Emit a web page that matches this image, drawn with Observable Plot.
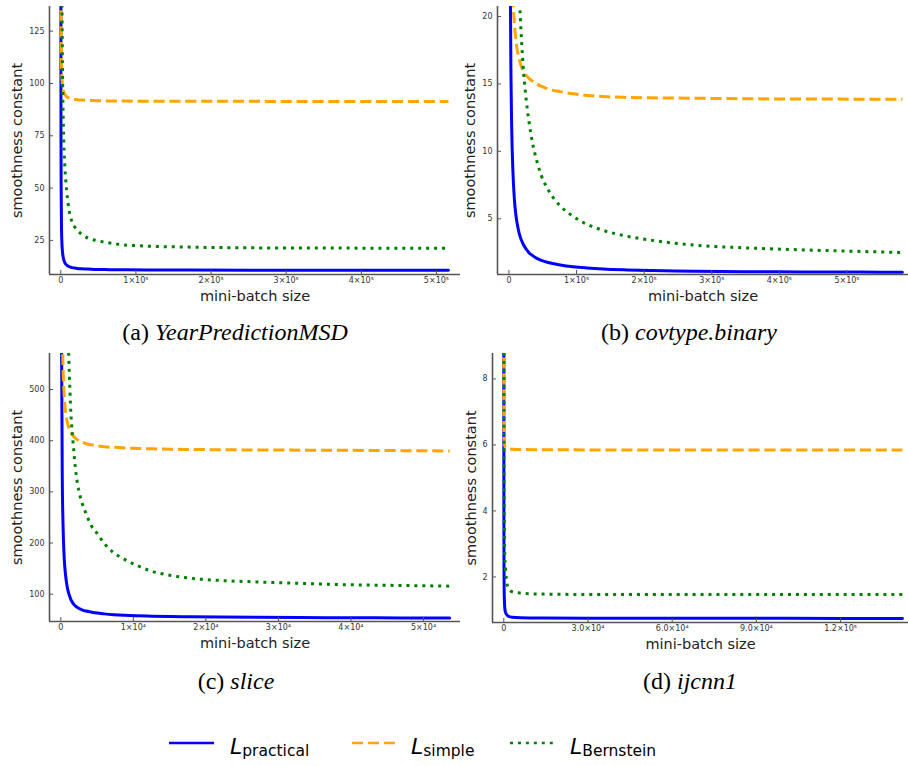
<!DOCTYPE html>
<html><head><meta charset="utf-8">
<script src="https://cdn.jsdelivr.net/npm/d3@7"></script>
<script src="https://cdn.jsdelivr.net/npm/@observablehq/plot@0.6"></script>
<style>
body{margin:0;background:#fff;}
#fig{position:relative;width:908px;height:766px;overflow:hidden;background:#fff;font-family:"DejaVu Sans",sans-serif;}
.panel{position:absolute;}
.cap{position:absolute;width:400px;text-align:center;font-family:"Liberation Serif","Times New Roman",serif;font-size:24px;line-height:26px;color:#000;white-space:nowrap;}
.cap i{font-style:italic;}
#legend{position:absolute;left:0;top:720px;}
</style></head><body><div id="fig">
<div class="cap" style="left:35px;top:319px">(a) <i>YearPredictionMSD</i></div>
<div class="cap" style="left:489px;top:319px">(b) <i>covtype.binary</i></div>
<div class="cap" style="left:36px;top:668px">(c) <i>slice</i></div>
<div class="cap" style="left:490px;top:668px">(d) <i>ijcnn1</i></div>
</div>
<script>
// ---------- data ----------
const seriesNames = ["practical", "simple", "Bernstein"];
const seriesColors = ["#0000ff", "#ffa500", "#008000"];

// (a) YearPredictionMSD
const aX = [150, 300, 500, 1000, 1500, 2000, 3000, 4000, 5500, 8000, 11500, 15000, 20000, 27000, 36000, 47000, 58000, 80000, 113000, 170000, 275000, 400000, 516000];
const aPractical = [144, 77, 50.7, 30.7, 24, 20.7, 17.4, 15.7, 14.3, 13.2, 12.4, 12.0, 11.7, 11.4, 11.3, 11.1, 11.05, 10.95, 10.9, 10.8, 10.77, 10.75, 10.7];
const aSimple = [211, 151, 127, 109.4, 103.4, 100.4, 97.4, 95.9, 94.7, 93.6, 93.0, 92.6, 92.3, 92.1, 91.9, 91.8, 91.7, 91.6, 91.55, 91.5, 91.45, 91.4, 91.4];
const aBernstein = [1350, 690, 420, 230, 150, 120, 88, 72, 60, 48, 38.6, 33.8, 30.7, 28.2, 26.1, 25.0, 24.2, 23.0, 22.3, 21.8, 21.4, 21.3, 21.2];
const aXTicks = [0, 100000, 200000, 300000, 400000, 500000];
const aXTickLabels = ["0", "1×10⁵", "2×10⁵", "3×10⁵", "4×10⁵", "5×10⁵"];
const aYTicks = [25, 50, 75, 100, 125];

// (b) covtype.binary
const bX = [1500, 2000, 3000, 4000, 6000, 8000, 10000, 12000, 15000, 17000, 19000, 21000, 24000, 27000, 30000, 35000, 42000, 48000, 58000, 76000, 95000, 115000, 139000, 175000, 212000, 273000, 347000, 433000, 520000, 582000];
const bPractical = [30.4, 23, 15.7, 12, 8.4, 6.5, 5.4, 4.7, 3.96, 3.62, 3.35, 3.13, 2.86, 2.66, 2.47, 2.27, 2.05, 1.92, 1.76, 1.58, 1.45, 1.36, 1.28, 1.21, 1.16, 1.12, 1.08, 1.06, 1.05, 1.04];
const bSimple = [43.9, 36.4, 28.9, 25.1, 21.4, 19.5, 18.4, 17.6, 16.9, 16.5, 16.2, 16.0, 15.7, 15.55, 15.4, 15.2, 14.97, 14.83, 14.62, 14.43, 14.27, 14.15, 14.06, 14.0, 13.97, 13.94, 13.9, 13.88, 13.87, 13.86];
const bBernstein = [202, 152, 102, 77, 52, 39.5, 32, 27, 22, 19.8, 17.9, 16.3, 14.6, 13.2, 12.1, 10.6, 9.15, 8.2, 7.15, 5.95, 5.18, 4.6, 4.15, 3.7, 3.4, 3.05, 2.85, 2.7, 2.58, 2.5];
const bXTicks = [0, 100000, 200000, 300000, 400000, 500000];
const bXTickLabels = ["0", "1×10⁵", "2×10⁵", "3×10⁵", "4×10⁵", "5×10⁵"];
const bYTicks = [5, 10, 15, 20];

// (c) slice
const cX = [100, 200, 300, 450, 650, 900, 1100, 1250, 1400, 1600, 1800, 2000, 2300, 2600, 3000, 3500, 4200, 5000, 6000, 7300, 8800, 10500, 12500, 15000, 18000, 22000, 27000, 33000, 40000, 47000, 53600];
const cPractical = [600, 330, 240, 175, 138, 113, 101, 95, 89, 84, 80, 77, 74, 71.5, 69, 67, 65, 63, 61.5, 60, 58.8, 57.8, 57, 56.3, 55.7, 55.2, 54.7, 54.3, 53.9, 53.5, 53.2];
const cSimple = [880, 630, 547, 491, 457, 436, 425, 420, 416, 411, 408, 405, 402, 399, 397, 394, 392, 390, 388, 387, 385.7, 384.8, 384, 383.3, 382.8, 382.3, 381.8, 381.5, 381.2, 380.5, 380];
const cBernstein = [5000, 2600, 1770, 1220, 880, 660, 562, 500, 450, 412, 378, 348, 316, 295, 275, 257, 234, 219, 199, 181, 168, 156, 145, 137, 131, 126.8, 124, 121, 118.3, 117, 115.7];
const cXTicks = [0, 10000, 20000, 30000, 40000, 50000];
const cXTickLabels = ["0", "1×10⁴", "2×10⁴", "3×10⁴", "4×10⁴", "5×10⁴"];
const cYTicks = [100, 200, 300, 400, 500];

// (d) ijcnn1
const dX = [10, 20, 40, 55, 80, 120, 200, 370, 600, 850, 1200, 1500, 3000, 6000, 14000, 30000, 60000, 100000, 142000];
const dPractical = [12, 6.5, 3.6, 2.8, 2.2, 1.7, 1.32, 1.05, 0.93, 0.88, 0.84, 0.82, 0.78, 0.765, 0.755, 0.75, 0.748, 0.746, 0.744];
const dSimple = [10.1, 8.0, 6.9, 6.63, 6.4, 6.21, 6.07, 5.97, 5.92, 5.9, 5.89, 5.88, 5.87, 5.86, 5.855, 5.85, 5.85, 5.85, 5.85];
const dBernstein = [36, 19, 10.2, 8.7, 6.5, 4.8, 3.5, 2.55, 2.24, 1.99, 1.76, 1.68, 1.55, 1.51, 1.48, 1.47, 1.47, 1.47, 1.47];
const dXTicks = [0, 30000, 60000, 90000, 120000];
const dXTickLabels = ["0", "3.0×10⁴", "6.0×10⁴", "9.0×10⁴", "1.2×10⁵"];
const dYTicks = [2, 4, 6, 8];

const xLabel = "mini-batch size";
const yLabel = "smoothness constant";

// ---------- drawing ----------
const fig = document.getElementById("fig");
const spine = "#555";

function drawPanel(cfg) {
  const {left, top, width, height, mL, mR, mT, mB, xDomain, yDomain, xs, series, xTicks, xTickLabels, yTicks, yLabelDx} = cfg;
  const fw = width - mL - mR, fh = height - mT - mB;
  const xFmt = new Map(xTicks.map((t, i) => [t, xTickLabels[i]]));
  const rows = (ys) => xs.map((x, i) => ({x, y: ys[i]}));
  const styles = [
    {strokeWidth: 3, strokeLinecap: "round"},
    {strokeWidth: 3, strokeDasharray: "11.1,4.8", strokeLinecap: "butt"},
    {strokeWidth: 3, strokeDasharray: "3,4.95", strokeLinecap: "butt"}
  ];
  const lines = series.map((ys, k) => Plot.line(rows(ys), {x: "x", y: "y", stroke: seriesColors[k], curve: "monotone-x", clip: true, ...styles[k]}));
  const chart = Plot.plot({
    width, height,
    marginLeft: mL, marginRight: mR, marginTop: mT, marginBottom: mB,
    style: {background: "transparent", overflow: "visible", fontFamily: "DejaVu Sans", fontSize: "8px", color: "#333"},
    x: {domain: xDomain, ticks: xTicks, tickFormat: d => xFmt.get(d), tickSize: 0, tickPadding: 3, label: null},
    y: {domain: yDomain, ticks: yTicks, tickFormat: d => String(d), tickSize: 0, tickPadding: 5, label: null},
    marks: [
      ...lines,
      Plot.tickX(xTicks, {x: d => d, insetTop: fh - 4, stroke: spine, strokeWidth: 1}),
      Plot.tickY(yTicks, {y: d => d, insetRight: fw - 4, stroke: spine, strokeWidth: 1}),
      Plot.ruleX([xDomain[0]], {stroke: spine, strokeWidth: 1.6}),
      Plot.ruleY([yDomain[0]], {stroke: spine, strokeWidth: 1.6}),
      Plot.text([xLabel], {text: d => d, frameAnchor: "bottom", textAnchor: "middle", lineAnchor: "middle", dy: 22, fontSize: 14.5, fill: "#222"}),
      Plot.text([yLabel], {text: d => d, frameAnchor: "left", textAnchor: "middle", lineAnchor: "middle", dx: yLabelDx, rotate: -90, fontSize: 14.5, fill: "#222"})
    ]
  });
  chart.classList.add("panel");
  chart.style.left = left + "px";
  chart.style.top = top + "px";
  chart.style.position = "absolute";
  fig.appendChild(chart);
}

drawPanel({left: 0, top: 0, width: 460, height: 310, mL: 49, mR: 0, mT: 6, mB: 36,
  xDomain: [-15000, 532000], yDomain: [8.7, 136.8], xs: aX, series: [aPractical, aSimple, aBernstein],
  xTicks: aXTicks, xTickLabels: aXTickLabels, yTicks: aYTicks, yLabelDx: -32});
drawPanel({left: 450, top: 0, width: 458, height: 310, mL: 47, mR: 0, mT: 6, mB: 36,
  xDomain: [-16900, 591000], yDomain: [0.87, 20.74], xs: bX, series: [bPractical, bSimple, bBernstein],
  xTicks: bXTicks, xTickLabels: bXTickLabels, yTicks: bYTicks, yLabelDx: -27});
drawPanel({left: 0, top: 345, width: 460, height: 310, mL: 49, mR: 0, mT: 8, mB: 34,
  xDomain: [-1560, 55100], yDomain: [46.6, 570.4], xs: cX, series: [cPractical, cSimple, cBernstein],
  xTicks: cXTicks, xTickLabels: cXTickLabels, yTicks: cYTicks, yLabelDx: -32});
drawPanel({left: 450, top: 345, width: 458, height: 310, mL: 42, mR: 0, mT: 8, mB: 33,
  xDomain: [-4026, 144190], yDomain: [0.62, 8.77], xs: dX, series: [dPractical, dSimple, dBernstein],
  xTicks: dXTicks, xTickLabels: dXTickLabels, yTicks: dYTicks, yLabelDx: -21});

// ---------- legend ----------
const NS = "http://www.w3.org/2000/svg";
const leg = document.createElementNS(NS, "svg");
leg.setAttribute("id", "legend");
leg.setAttribute("width", 908);
leg.setAttribute("height", 46);
const legItems = [
  {x1: 169, x2: 214, tx: 230, dash: null},
  {x1: 352, x2: 396, tx: 411, dash: "11.1,4.8"},
  {x1: 510, x2: 553, tx: 570, dash: "3,4.95"}
];
legItems.forEach((it, k) => {
  const ln = document.createElementNS(NS, "line");
  ln.setAttribute("x1", it.x1); ln.setAttribute("x2", it.x2);
  ln.setAttribute("y1", 23); ln.setAttribute("y2", 23);
  ln.setAttribute("stroke", seriesColors[k]);
  ln.setAttribute("stroke-width", 2.7);
  if (it.dash) { ln.setAttribute("stroke-dasharray", it.dash); ln.setAttribute("stroke-linecap", "butt"); }
  leg.appendChild(ln);
  const t = document.createElementNS(NS, "text");
  t.setAttribute("x", it.tx); t.setAttribute("y", 34);
  t.setAttribute("font-family", "DejaVu Sans");
  t.setAttribute("font-size", 22);
  t.setAttribute("font-style", "italic");
  t.setAttribute("fill", "#000");
  t.textContent = "L";
  const s = document.createElementNS(NS, "tspan");
  s.setAttribute("font-style", "normal");
  s.setAttribute("font-size", 15.5);
  s.setAttribute("dy", 2);
  s.textContent = seriesNames[k];
  t.appendChild(s);
  leg.appendChild(t);
});
fig.appendChild(leg);
</script>
</body></html>
